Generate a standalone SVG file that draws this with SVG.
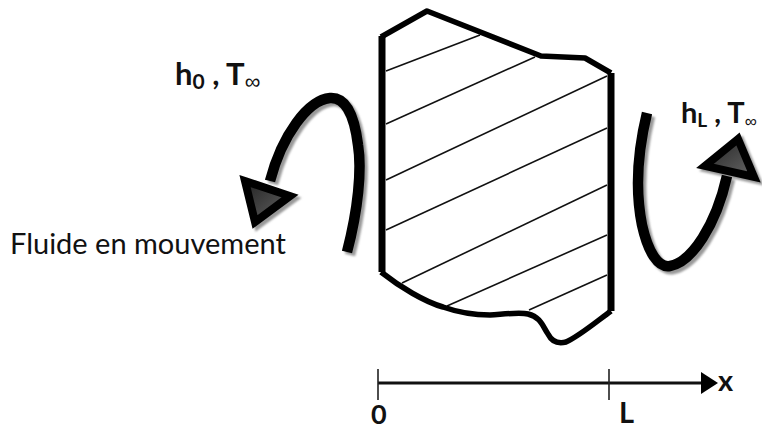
<svg xmlns="http://www.w3.org/2000/svg" width="762" height="430" viewBox="0 0 762 430">
<style>
.lab{font-family:Lato,"Liberation Sans",sans-serif;fill:#111}
.b{font-weight:700}
.hatch{stroke:#111;stroke-width:1.6;fill:none}
.outline{stroke:#000;fill:none;stroke-linejoin:round}
.curve{fill:none;stroke-width:10.5}
.head{stroke-width:8;stroke-linejoin:miter}
.inf{font-family:"Liberation Sans",sans-serif;font-size:22px;font-weight:400}
</style>
<defs>
<filter id="soft" x="-20%" y="-20%" width="140%" height="140%"><feGaussianBlur stdDeviation="1.2"/></filter>
<linearGradient id="dark" x1="0" y1="0" x2="1" y2="1"><stop offset="0" stop-color="#222"/><stop offset="1" stop-color="#666"/></linearGradient>
<path id="flowL" d="M347 252C358 210 362 170 358 145C354 112 344 97 330 98C308 100 282 135 270 181"/>
<polygon id="headL" points="245,181 290,196 255,222"/>
<path id="flowR" d="M647 113C638 150 635 190 642 225C648 252 658 268 670 266C692 262 716 225 727 176"/>
<polygon id="headR" points="738,139 705,166 754,177"/>
</defs>
<g id="solid">
<g class="hatch">
<path d="M386 71L480 35"/><path d="M386 124L535 57"/><path d="M386 180L607 76"/><path d="M386 230L607 128"/><path d="M402 283L607 185"/><path d="M447 306L607 235"/><path d="M529 310L607 275"/>
</g>
<path class="outline" stroke-width="5.5" d="M381 37L427 11L541 56L585 58L611 73"/>
<path class="outline" stroke-width="5.5" d="M381 272C400 287 425 302 443 307C460 313 475 315 490 315C505 314 520 312 528 314C541 317 543 327 548 334C552 342 558 344 566 342C578 337 596 322 611 311"/>
<path class="outline" stroke-width="7" d="M382 36V272M611 73V311"/>
</g>
<g id="connectors">
<g id="flow-left">
<g transform="translate(3 3)" filter="url(#soft)"><use href="#flowL" class="curve" stroke="#999"/><use href="#headL" class="head" fill="#999" stroke="#999"/></g>
<use href="#flowL" class="curve" stroke="#000"/>
<use href="#headL" class="head" fill="url(#dark)" stroke="#000"/>
</g>
<g id="flow-right">
<g transform="translate(3 3)" filter="url(#soft)"><use href="#flowR" class="curve" stroke="#999"/><use href="#headR" class="head" fill="#999" stroke="#999"/></g>
<use href="#flowR" class="curve" stroke="#000"/>
<use href="#headR" class="head" fill="url(#dark)" stroke="#000"/>
</g>
<g id="axis">
<path d="M378 383H703" stroke="#111" stroke-width="3" fill="none"/>
<path d="M378 369V400M609 369V400" stroke="#222" stroke-width="1.6" fill="none"/>
<polygon points="701,372 718,383 701,394" fill="#000"/>
</g>
</g>
<g id="labels">
<text class="lab b" x="175" y="85" font-size="31">h<tspan font-size="21" dy="4">0</tspan><tspan dy="-4"> , T</tspan><tspan class="inf" dy="4">∞</tspan></text>
<text class="lab b" x="681" y="123" font-size="29">h<tspan font-size="19" dy="4">L</tspan><tspan dy="-4"> , T</tspan><tspan class="inf" style="font-size:17px" dy="4">∞</tspan></text>
<text class="lab" x="10" y="254" font-size="29">Fluide en mouvement</text>
<text class="lab b" x="718" y="391" font-size="29">x</text>
<text class="lab b" x="371" y="424" font-size="27">0</text>
<text class="lab b" x="619" y="423" font-size="29">L</text>
</g>
</svg>
